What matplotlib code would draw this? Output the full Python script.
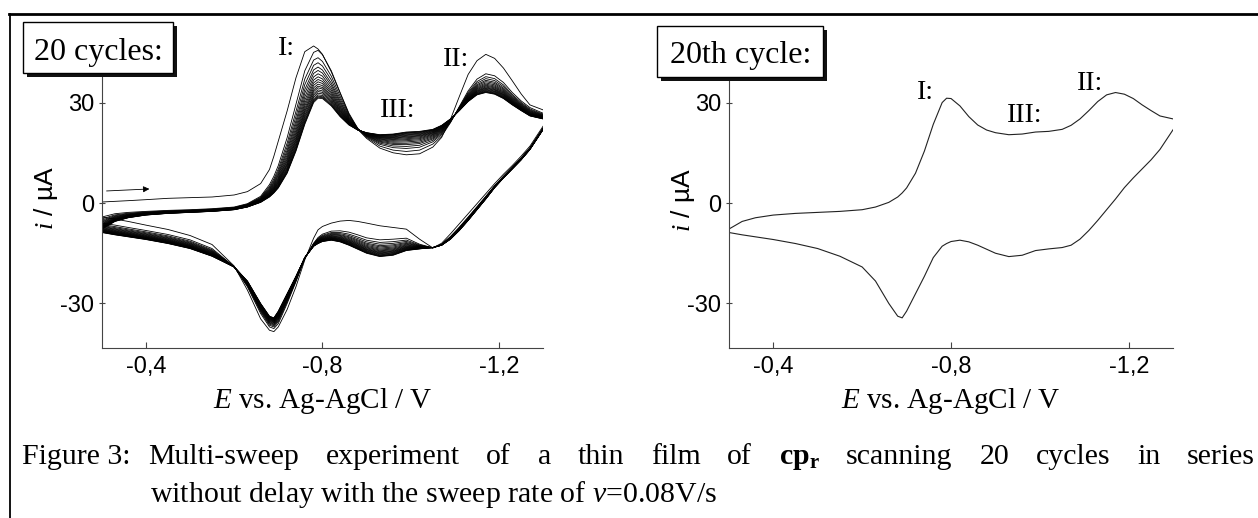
import matplotlib
matplotlib.use('Agg')
import matplotlib.pyplot as plt
from matplotlib.patches import Rectangle
from matplotlib.lines import Line2D
import numpy as np

plt.rcParams['font.family'] = ['Liberation Sans', 'DejaVu Sans']
plt.rcParams['mathtext.fontset'] = 'custom'
plt.rcParams['mathtext.rm'] = 'Liberation Serif'
plt.rcParams['mathtext.it'] = 'Liberation Serif:italic'
plt.rcParams['mathtext.bf'] = 'Liberation Serif:bold'

SERIF = ['Liberation Serif', 'DejaVu Serif']

# potential grid (V) shared by every sweep
E = [-0.30, -0.33, -0.36, -0.40, -0.45, -0.50, -0.55, -0.60, -0.63, -0.66,
     -0.68, -0.69, -0.70, -0.72, -0.74, -0.76, -0.78, -0.79, -0.80, -0.82,
     -0.84, -0.86, -0.88, -0.90, -0.93, -0.96, -0.99, -1.02, -1.05, -1.07,
     -1.09, -1.11, -1.13, -1.15, -1.17, -1.19, -1.21, -1.23, -1.25, -1.27, -1.30]

# current (uA) of the cathodic (fwd) and anodic (rev) sweep
c1_fwd = [0.3, 0.5, 0.7, 1.0, 1.4, 1.6, 1.8, 2.4, 3.4, 5.8,
          10.0, 14.0, 18.5, 27.5, 37.4, 45.2, 46.9, 46.0, 44.4, 39.2,
          32.8, 26.5, 22.0, 19.3, 16.4, 15.0, 14.4, 14.7, 16.7, 19.6,
          25.0, 31.8, 38.4, 42.5, 44.4, 43.2, 40.3, 36.5, 32.6, 29.3, 27.8]
c1_rev = [-4.2, -4.8, -5.5, -6.6, -7.9, -9.7, -12.4, -18.8, -26.0, -34.6,
          -38.0, -38.4, -37.0, -31.8, -25.0, -17.0, -10.5, -8.0, -7.0, -6.0,
          -5.4, -5.2, -5.5, -6.0, -6.8, -7.3, -7.8, -10.8, -13.4, -12.0,
          -9.2, -6.2, -3.2, -0.2, 2.8, 5.8, 8.6, 11.2, 14.0, 17.0, 23.0]

c2_fwd = [-4.2, -3.2, -2.8, -2.5, -2.2, -2.0, -1.7, -1.2, -0.2, 2.0,
          5.5, 8.0, 11.2, 19.5, 29.5, 39.5, 45.0, 45.6, 44.3, 39.5,
          33.0, 26.8, 22.3, 19.6, 17.0, 15.8, 15.4, 15.8, 17.6, 20.0,
          24.0, 28.8, 33.5, 37.0, 38.6, 38.0, 36.0, 33.0, 30.5, 28.5, 26.8]
c2_rev = [-6.0, -6.6, -7.3, -8.2, -9.4, -11.0, -13.6, -19.0, -25.0, -33.0,
          -37.0, -37.5, -36.0, -30.0, -23.5, -16.5, -12.0, -10.3, -9.3, -8.4,
          -8.3, -8.7, -9.5, -10.4, -11.0, -10.8, -10.5, -12.3, -13.4, -12.3,
          -10.0, -7.2, -4.2, -1.1, 2.0, 5.2, 8.0, 10.7, 13.5, 16.5, 22.5]

c20_fwd = [-7.8, -5.5, -4.4, -3.6, -3.1, -2.8, -2.5, -2.0, -1.2, 0.2,
           1.8, 3.0, 4.5, 8.9, 15.5, 23.5, 30.0, 31.3, 31.2, 29.0,
           25.8, 23.3, 21.8, 21.0, 20.4, 20.6, 21.2, 21.4, 22.0, 23.2,
           25.1, 27.6, 30.3, 32.3, 33.0, 32.5, 31.2, 29.3, 27.6, 26.0, 25.1]
c20_rev = [-8.8, -9.5, -10.1, -10.9, -12.1, -13.6, -15.9, -19.1, -23.3, -30.0,
           -33.8, -34.3, -32.3, -27.1, -21.9, -16.3, -12.9, -12.1, -11.5, -11.1,
           -11.6, -12.6, -13.8, -15.0, -16.0, -15.6, -14.2, -13.7, -13.3, -12.6,
           -10.8, -8.2, -5.2, -2.0, 1.2, 4.6, 7.5, 10.2, 12.9, 16.0, 22.0]

# height of peak I for cycles 1..20
peak_I = [46.9, 45.6, 43.4, 41.9, 40.6, 39.6, 38.6, 37.7, 36.9, 36.2,
          35.5, 34.9, 34.4, 33.8, 33.3, 32.8, 32.3, 31.9, 31.6, 31.3]

xtick_vals = [-0.4, -0.8, -1.2]
xtick_labels = ['-0,4', '-0,8', '-1,2']
ytick_vals = [-30, 0, 30]
ytick_labels = ['-30', '0', '30']

W, H = 1258, 518


def fx(px):
    return px / W


def fy(py):
    return 1 - py / H


fig = plt.figure(figsize=(W / 100, H / 100), dpi=100)

ax1 = fig.add_axes([fx(101.7), fy(348), 441.5 / W, (348 - 35.6) / H])
ax2 = fig.add_axes([fx(728.8), fy(348), 444.5 / W, (348 - 35.6) / H])

# left: all 20 cycles
e = np.array(E)
f2, r2 = np.array(c2_fwd), np.array(c2_rev)
f20, r20 = np.array(c20_fwd), np.array(c20_rev)
ax1.plot(e, c1_fwd, color='black', lw=0.6)
ax1.plot(e, c1_rev, color='black', lw=0.6)
for k in range(1, 20):
    w = (peak_I[k] - peak_I[-1]) / (peak_I[1] - peak_I[-1])
    ax1.plot(e, f20 + w * (f2 - f20), color='black', lw=0.6)
    ax1.plot(e, r20 + w * (r2 - r20), color='black', lw=0.6)

# right: 20th cycle only
ax2.plot(e, c20_fwd, color='#222222', lw=0.8)
ax2.plot(e, c20_rev, color='#222222', lw=0.8)

for ax, ylab_x, ylab_y in [(ax1, (46 - 101.7) / 441.5, 0.48), (ax2, (683 - 728.8) / 444.5, 0.475)]:
    ax.set_xlim(-0.3, -1.3)
    ax.set_ylim(-43.3, 50)
    ax.patch.set_alpha(0)
    for s in ['top', 'right']:
        ax.spines[s].set_visible(False)
    for s in ['left', 'bottom']:
        ax.spines[s].set_color('#444444')
        ax.spines[s].set_linewidth(0.8)
    ax.set_xticks(xtick_vals)
    ax.set_xticklabels(xtick_labels)
    ax.set_yticks(ytick_vals)
    ax.set_yticklabels(ytick_labels)
    ax.tick_params(axis='x', direction='in', length=4, width=0.8, color='#444444', pad=6, labelsize=17)
    ax.tick_params(axis='y', direction='inout', length=5, width=0.8, color='#444444', pad=3, labelsize=17)
    ax.set_xlabel(r'$E$ vs. Ag-AgCl / V', family=SERIF, fontsize=21)
    ax.xaxis.set_label_coords(0.5, (348 - 408.3) / 312.4)
    ax.xaxis.label.set_va('baseline')
    ax.set_ylabel(r'$i$ / µA', fontsize=19)
    ax.yaxis.set_label_coords(ylab_x, ylab_y)
    ax.yaxis.label.set_va('center')

# peak labels
for ax, pos in [(ax1, [('I:', -0.699, 44.2), ('II:', -1.073, 40.8), ('III:', -0.930, 25.8)]),
                (ax2, [('I:', -0.723, 31.1), ('II:', -1.084, 33.8), ('III:', -0.926, 24.3)])]:
    for txt, x, y in pos:
        ax.text(x, y, txt, family=SERIF, fontsize=20, ha='left', va='baseline')

# start arrow
ax1.annotate('', xy=(-0.408, 4.2), xytext=(-0.311, 3.6),
             arrowprops=dict(arrowstyle='-|>', lw=0.6, color='black',
                             mutation_scale=9, shrinkA=0, shrinkB=0))

# labelled boxes with drop shadow
for (x0, y0, x1, y1), label, tx, ty in [((23, 22, 173, 73), '20 cycles:', 98, 60),
                                         ((657, 26, 823, 77), '20th cycle:', 741, 63.5)]:
    fig.add_artist(Rectangle((fx(x0 + 4), fy(y1 + 4)), (x1 - x0) / W, (y1 - y0) / H,
                             transform=fig.transFigure, facecolor='#111111',
                             edgecolor='none', zorder=5))
    fig.add_artist(Rectangle((fx(x0), fy(y1)), (x1 - x0) / W, (y1 - y0) / H,
                             transform=fig.transFigure, facecolor='white',
                             edgecolor='black', lw=1.0, zorder=6))
    fig.text(fx(tx), fy(ty), label, family=SERIF, fontsize=23,
             ha='center', va='baseline', zorder=7)

# frame of the scanned figure
fig.add_artist(Line2D([fx(9), 1], [fy(14), fy(14)], color='black', lw=2.0))
fig.add_artist(Line2D([fx(9.5), fx(9.5)], [fy(14), 0], color='black', lw=1.3))

# caption, first line justified
CAP = 21.5
fig.text(fx(22), fy(464), 'Figure 3:', family=SERIF, fontsize=CAP, va='baseline')
words = ['Multi-sweep', 'experiment', 'of', 'a', 'thin', 'film', 'of',
         r'$\mathbf{cp}_\mathbf{r}$', 'scanning', '20', 'cycles', 'in', 'series']
txts = [fig.text(0, fy(464), w, family=SERIF, fontsize=CAP, va='baseline') for w in words]
fig.canvas.draw()
r = fig.canvas.get_renderer()
widths = [t.get_window_extent(r).width for t in txts]
x_start, x_end = 148, 1255
gap = (x_end - x_start - sum(widths)) / (len(words) - 1)
x = x_start
for t, wd in zip(txts, widths):
    t.set_x(fx(x))
    x += wd + gap
fig.text(fx(150), fy(501.5), r'without delay with the sweep rate of $\nu$=0.08V/s',
         family=SERIF, fontsize=CAP, va='baseline')

fig.savefig('out.png', dpi=100)
